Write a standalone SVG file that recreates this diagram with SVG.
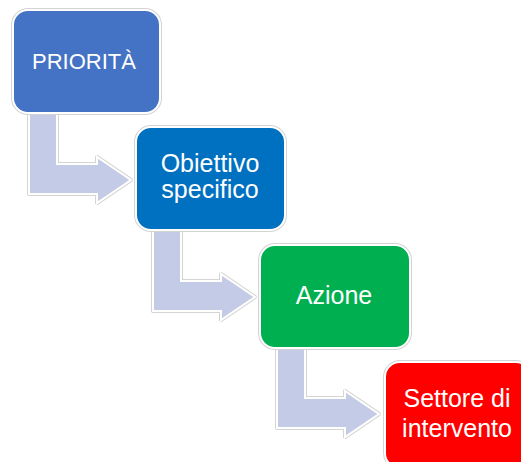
<svg xmlns="http://www.w3.org/2000/svg" width="521" height="462" viewBox="0 0 521 462">
  <style>
    .halo { fill: none; stroke: #d4d4d4; stroke-width: 4; stroke-linejoin: round; }
    .arrow { fill: #c3cbe6; stroke: #ffffff; stroke-width: 2; stroke-linejoin: miter; }
    .box { stroke: #ffffff; stroke-width: 2; }
    .lbl { font-family: "Liberation Sans", Arial, sans-serif; fill: #ffffff; text-anchor: middle; font-size: 25px; }
  </style>
  <defs>
    <path id="bent" d="M29,113 L57,113 L57,164 L97,164 L97,157 L131,180 L97,203 L97,194 L29,194 Z"/>
  </defs>
  <rect width="521" height="462" fill="#ffffff"/>
  <g id="connectors">
    <g>
      <use href="#bent" class="halo"/>
      <use href="#bent" class="arrow"/>
    </g>
    <g transform="translate(124,117)">
      <use href="#bent" class="halo"/>
      <use href="#bent" class="arrow"/>
    </g>
    <g transform="translate(248,234)">
      <use href="#bent" class="halo"/>
      <use href="#bent" class="arrow"/>
    </g>
  </g>
  <g id="priorita">
    <rect x="13" y="10" width="147" height="103" rx="15" class="halo"/>
    <rect x="13" y="10" width="147" height="103" rx="15" fill="#4472c4" class="box"/>
    <text x="84" y="69" class="lbl" style="font-size:22px">PRIORITÀ</text>
  </g>
  <g id="obiettivo">
    <rect x="136" y="127" width="149" height="103" rx="15" class="halo"/>
    <rect x="136" y="127" width="149" height="103" rx="15" fill="#0070c0" class="box"/>
    <text x="210" y="172" class="lbl">Obiettivo</text>
    <text x="210" y="198" class="lbl">specifico</text>
  </g>
  <g id="azione">
    <rect x="260" y="245" width="150" height="103" rx="15" class="halo"/>
    <rect x="260" y="245" width="150" height="103" rx="15" fill="#00b050" class="box"/>
    <text x="334" y="304" class="lbl">Azione</text>
  </g>
  <g id="settore">
    <rect x="385" y="362" width="146" height="106" rx="15" class="halo"/>
    <rect x="385" y="362" width="146" height="106" rx="15" fill="#ff0000" class="box"/>
    <text x="457" y="407" class="lbl">Settore di</text>
    <text x="457" y="437" class="lbl">intervento</text>
  </g>
</svg>
